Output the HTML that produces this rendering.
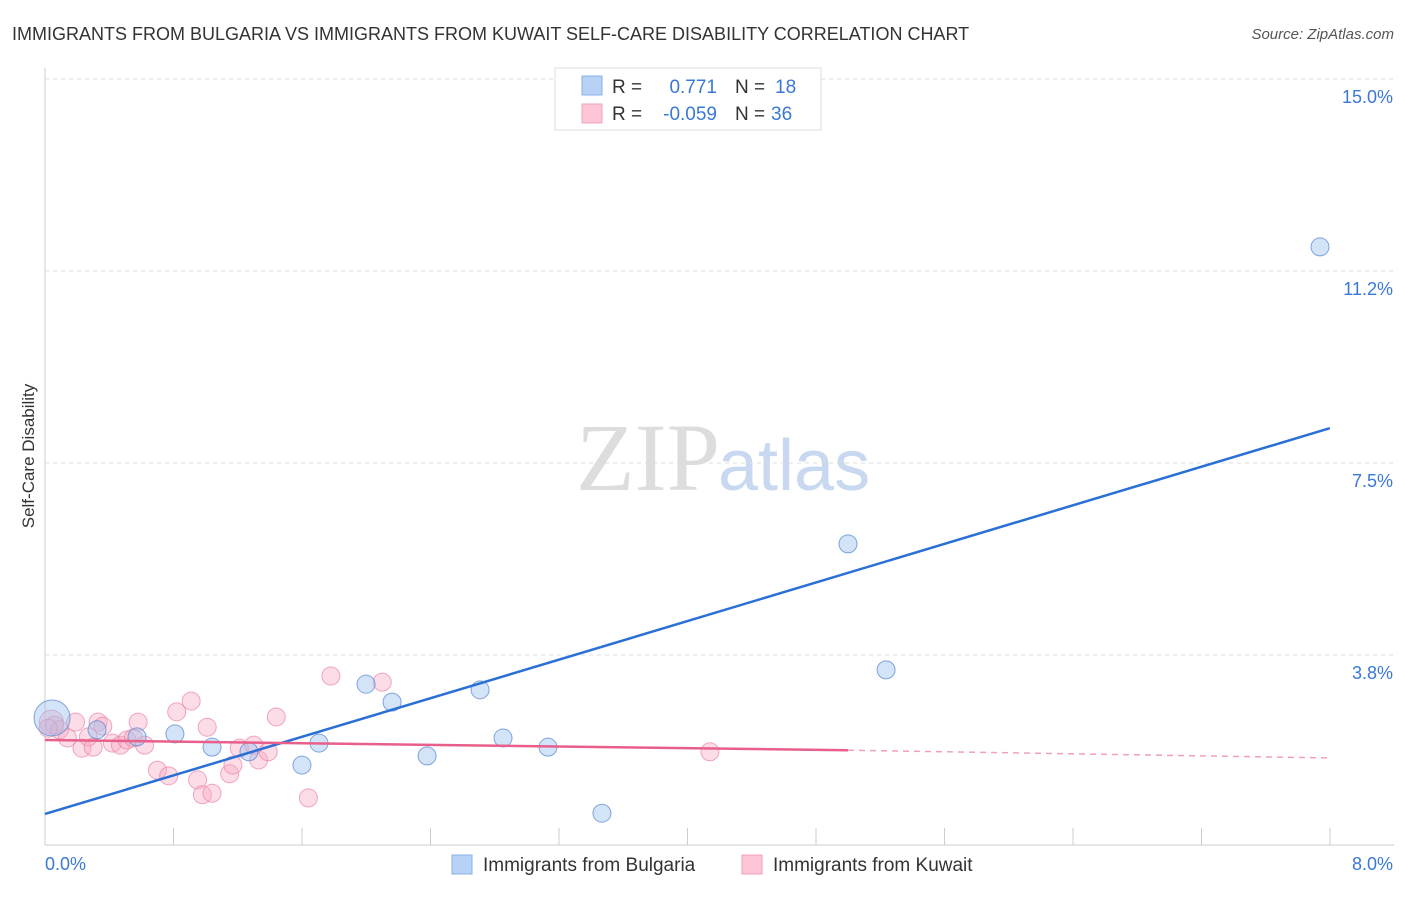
<!DOCTYPE html>
<html><head><meta charset="utf-8"><style>
body{margin:0;background:#fff;font-family:"Liberation Sans",sans-serif}
</style></head><body>
<svg id="c" width="1406" height="892" xmlns="http://www.w3.org/2000/svg">
<text x="12" y="40" font-size="18" fill="#333">IMMIGRANTS FROM BULGARIA VS IMMIGRANTS FROM KUWAIT SELF-CARE DISABILITY CORRELATION CHART</text>
<text x="1394" y="39" font-size="15" fill="#555" font-style="italic" text-anchor="end">Source: ZipAtlas.com</text>
<text x="720" y="490" font-size="96" fill="#ddd" font-family="Liberation Serif,serif" text-anchor="end">ZIP</text>
<text x="718" y="490" font-size="72" fill="#c8d8f0">atlas</text>
<text transform="translate(34,456) rotate(-90)" font-size="17" fill="#333" text-anchor="middle">Self-Care Disability</text>
<g id="g"></g>
<g>
<rect x="555" y="68" width="266" height="62" fill="#fff" stroke="#ddd"/>
<rect x="582" y="76" width="20" height="19" fill="#b8d2f5" stroke="#8ab0e8"/>
<rect x="582" y="104" width="20" height="19" fill="#fcc6d6" stroke="#f0a0b8"/>
<text x="612" y="93" font-size="19" fill="#333">R =</text><text x="717" y="93" font-size="19" fill="#3a78d4" text-anchor="end">0.771</text>
<text x="735" y="93" font-size="19" fill="#333">N =</text><text x="775" y="93" font-size="19" fill="#3a78d4">18</text>
<text x="612" y="120" font-size="19" fill="#333">R =</text><text x="717" y="120" font-size="19" fill="#3a78d4" text-anchor="end">-0.059</text>
<text x="735" y="120" font-size="19" fill="#333">N =</text><text x="771" y="120" font-size="19" fill="#3a78d4">36</text>
</g>
<g>
<rect x="452" y="855" width="20" height="19" fill="#b8d2f5" stroke="#8ab0e8"/>
<text x="483" y="871" font-size="19" fill="#333">Immigrants from Bulgaria</text>
<rect x="742" y="855" width="20" height="19" fill="#fcc6d6" stroke="#f0a0b8"/>
<text x="773" y="871" font-size="19" fill="#333">Immigrants from Kuwait</text>
</g>
</svg>
<script>
const yTicks=[3.75,7.5,11.25,15];
const yTickLabels=["3.8%","7.5%","11.2%","15.0%"];
const xTickLabels=["0.0%","8.0%"];
const blueX=[0.044,0.324,0.573,0.809,1.040,1.270,1.600,1.706,1.999,2.161,2.379,2.709,2.852,3.132,3.468,5.000,5.237,7.939];
const blueY=[2.52,2.29,2.15,2.21,1.95,1.86,1.60,2.03,3.18,2.83,1.78,3.07,2.13,1.95,0.66,5.92,3.46,11.72];
const pinkX=[0.04,0.06,0.09,0.14,0.19,0.23,0.27,0.30,0.33,0.36,0.42,0.47,0.51,0.55,0.58,0.62,0.70,0.77,0.82,0.91,0.95,0.98,1.01,1.04,1.15,1.17,1.21,1.30,1.33,1.39,1.44,1.64,1.78,2.10,4.14,0.02];
const pinkY=[2.44,2.38,2.29,2.13,2.44,1.93,2.15,1.95,2.44,2.36,2.03,1.99,2.09,2.13,2.44,1.99,1.50,1.39,2.64,2.85,1.31,1.02,2.34,1.05,1.43,1.60,1.93,1.99,1.70,1.86,2.54,0.96,3.34,3.22,1.86,2.32];
const blueLine=[0.645,8.18];
const pinkLine=[2.09,1.89,1.74];
const X=v=>45+v*160.6, Y=v=>847-v*51.2;
const NS="http://www.w3.org/2000/svg", g=document.getElementById('g');
function mk(t,a){const e=document.createElementNS(NS,t);for(const k in a)e.setAttribute(k,a[k]);g.appendChild(e);return e;}
let ax=mk('line',{x1:45,y1:68,x2:45,y2:845,stroke:'#ccc'});


let bx=mk('line',{x1:45,y1:845,x2:1394,y2:845,stroke:'#ccc'});


for(let i=0;i<=10;i++){let t=mk('line',{x1:45+i*128.5,y1:828,x2:45+i*128.5,y2:845,stroke:'#ccc'});

}
yTicks.forEach((v,i)=>{let l=mk('line',{x1:45,x2:1394,y1:Y(v),y2:Y(v),stroke:'#ddd','stroke-dasharray':'4,4'});


let t=mk('text',{x:1393,y:Y(v)+24,'font-size':18,fill:'#3a78d4','text-anchor':'end'});t.textContent=yTickLabels[i];

});
[[45,'start'],[1393,'end']].forEach((p,i)=>{let t=mk('text',{x:p[0],y:870,'font-size':18,fill:'#3a78d4','text-anchor':p[1]});t.textContent=xTickLabels[i];

});
pinkX.forEach((x,i)=>{let c=mk('circle',{cx:X(x),cy:Y(pinkY[i]),r:i==0?12:9,fill:'rgba(248,170,195,0.4)',stroke:'rgba(235,130,165,0.7)'});

});
blueX.forEach((x,i)=>{let c=mk('circle',{cx:X(x),cy:Y(blueY[i]),r:i==0?18:9,fill:'rgba(160,195,240,0.45)',stroke:'rgba(80,130,210,0.7)'});

});
let bl=mk('line',{x1:X(0),y1:Y(blueLine[0]),x2:X(8),y2:Y(blueLine[1]),stroke:'#2a6fd6','stroke-width':2.5});


let pl=mk('line',{x1:X(0),y1:Y(pinkLine[0]),x2:X(5),y2:Y(pinkLine[1]),stroke:'#e8608a','stroke-width':2.5});


let pd=mk('line',{x1:X(5),y1:Y(pinkLine[1]),x2:X(8),y2:Y(pinkLine[2]),stroke:'#f0a0b8','stroke-width':1.5,'stroke-dasharray':'6,5'});


</script>
</body></html>
